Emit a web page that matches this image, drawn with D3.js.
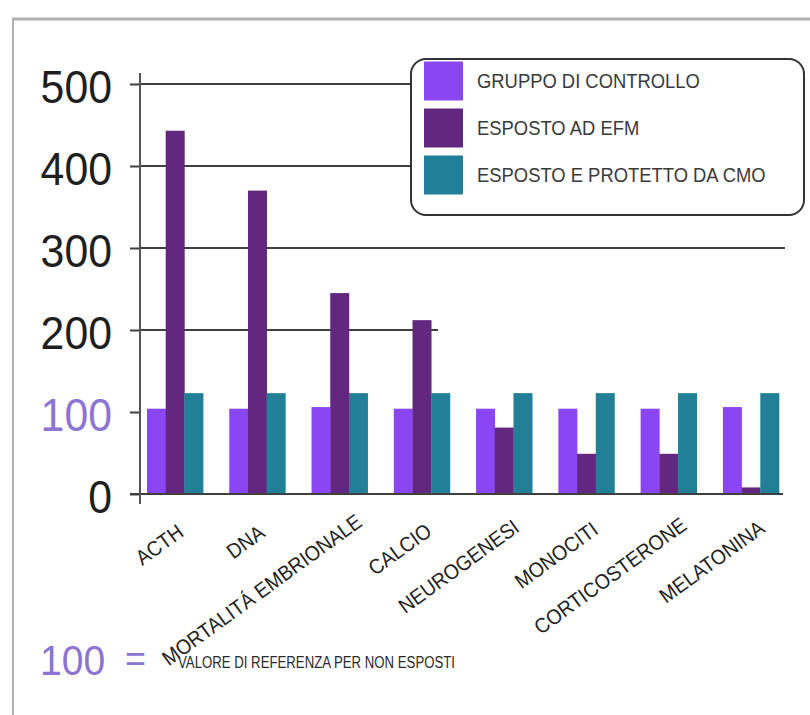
<!DOCTYPE html>
<html>
<head>
<meta charset="utf-8">
<script src="https://cdn.jsdelivr.net/npm/d3@7"></script>
<style>
  html, body { margin: 0; padding: 0; background: #fff; }
  svg { display: block; font-family: "Liberation Sans", Arial, sans-serif; }
</style>
</head>
<body>
<svg id="chart" width="810" height="715"></svg>
<script>
// ---------- DATA ----------
const categories = ["ACTH", "DNA", "MORTALITÁ EMBRIONALE", "CALCIO", "NEUROGENESI", "MONOCITI", "CORTICOSTERONE", "MELATONINA"];
const seriesNames = ["GRUPPO DI CONTROLLO", "ESPOSTO AD EFM", "ESPOSTO E PROTETTO DA CMO"];
const controllo = [104, 104, 106, 104, 104, 104, 104, 106];
const espostoEFM = [443, 370, 245, 212, 81, 49, 49, 8];
const protettoCMO = [123, 123, 123, 123, 123, 123, 123, 123];
const yTicks = [0, 100, 200, 300, 400, 500];
const footnoteValue = "100";
const footnoteText = "VALORE DI REFERENZA PER NON ESPOSTI";

// ---------- STYLE ----------
const colors = ["#8a46f2", "#62287f", "#217f98"];
const lavender = "#8b74d2";
const lineColor = "#3f3f3f";

// condense a text element horizontally (slide font is a narrow sans)
function condense(sel, k) {
  sel.each(function () {
    const L = this.getComputedTextLength();
    d3.select(this).attr("textLength", L * k).attr("lengthAdjust", "spacingAndGlyphs");
  });
}

const svg = d3.select("#chart");

// slide frame (top + left)
svg.append("line").attr("x1", 12).attr("x2", 810).attr("y1", 19).attr("y2", 19)
  .attr("stroke", "#b0b0b0").attr("stroke-width", 3);
svg.append("line").attr("x1", 13).attr("x2", 13).attr("y1", 19).attr("y2", 715)
  .attr("stroke", "#b0b0b0").attr("stroke-width", 2);

const axisX = 140;
const y = d3.scaleLinear().domain([0, 500]).range([494, 84]);
const x0 = d3.scaleBand().domain(categories).range([140, 786]).paddingInner(0.318).paddingOuter(0.085);
const x1 = d3.scaleBand().domain(seriesNames).range([0, x0.bandwidth()]).padding(0);

const legendLeft = 411;
// horizontal gridline extents (as drawn in the original slide)
const gridEnd = {0: 783, 100: null, 200: 438, 300: 785, 400: legendLeft, 500: legendLeft};

const grid = svg.append("g");
yTicks.forEach(t => {
  if (gridEnd[t] == null) return;
  grid.append("line")
    .attr("x1", axisX).attr("x2", gridEnd[t])
    .attr("y1", y(t)).attr("y2", y(t))
    .attr("stroke", lineColor).attr("stroke-width", 2);
});

// bars
const seriesValues = [controllo, espostoEFM, protettoCMO];
const gBars = svg.append("g");
categories.forEach((c, i) => {
  seriesNames.forEach((s, j) => {
    const v = seriesValues[j][i];
    gBars.append("rect")
      .attr("x", x0(c) + x1(s))
      .attr("y", y(v))
      .attr("width", x1.bandwidth() + 0.3)
      .attr("height", y(0) - y(v))
      .attr("fill", colors[j]);
  });
});

// baseline over bars
svg.append("line").attr("x1", axisX - 10).attr("x2", gridEnd[0]).attr("y1", y(0)).attr("y2", y(0))
  .attr("stroke", lineColor).attr("stroke-width", 2);

// y axis
const yAxis = d3.axisLeft(y).tickValues(yTicks).tickSize(10).tickPadding(18).tickFormat(d3.format("d"));
const gy = svg.append("g").attr("transform", `translate(${axisX},0)`).call(yAxis);
gy.select(".domain").remove();
gy.selectAll(".tick line").attr("stroke", lineColor).attr("stroke-width", 2);
gy.selectAll(".tick text")
  .attr("font-size", 46)
  .attr("dy", "0.40em")
  .attr("fill", d => d === 100 ? lavender : "#1e1e1e")
  .style("font-family", "'Liberation Sans', Arial, sans-serif")
  .call(condense, 0.93);
svg.append("line").attr("x1", axisX).attr("x2", axisX).attr("y1", 73).attr("y2", 504)
  .attr("stroke", "#555").attr("stroke-width", 2);

// category labels (rotated)
const angle = 36;
const rad = angle * Math.PI / 180;
const gx = svg.append("g");
categories.forEach(c => {
  const t = gx.append("text")
    .attr("text-anchor", "end")
    .attr("font-size", 21)
    .attr("fill", "#222")
    .text(c)
    .call(condense, 0.92);
  const L = t.node().getComputedTextLength() * 0.92;
  const shift = 0.1 * (L - 50);
  const ex = x0(c) + x0.bandwidth() / 2 + 10 + shift * Math.cos(rad);
  const ey = 535 - shift * Math.sin(rad);
  t.attr("transform", `translate(${ex},${ey}) rotate(${-angle})`);
});

// legend
const lg = svg.append("g");
lg.append("rect").attr("x", legendLeft).attr("y", 59).attr("width", 393).attr("height", 156)
  .attr("rx", 15).attr("ry", 15)
  .attr("fill", "#fff").attr("stroke", "#333").attr("stroke-width", 2);
seriesNames.forEach((s, j) => {
  const cy = 81 + j * 47;
  lg.append("rect").attr("x", 424).attr("y", cy - 19.5).attr("width", 39).attr("height", 39)
    .attr("fill", colors[j]);
  lg.append("text").attr("x", 477).attr("y", cy).attr("dy", "0.36em")
    .attr("font-size", 20).attr("fill", "#3a3a3a").text(s)
    .call(condense, 0.92);
});

// footnote
svg.append("text").attr("x", 40).attr("y", 660).attr("dy", "0.36em")
  .attr("font-size", 42).attr("fill", lavender).text(footnoteValue)
  .call(condense, 0.93);
svg.append("text").attr("x", 125).attr("y", 658).attr("dy", "0.36em")
  .attr("font-size", 36).attr("fill", lavender).text("=");
svg.append("text").attr("x", 178).attr("y", 662).attr("dy", "0.36em")
  .attr("font-size", 16).attr("fill", "#2a2a2a")
  .attr("textLength", 277).attr("lengthAdjust", "spacingAndGlyphs")
  .text(footnoteText);
</script>
</body>
</html>
